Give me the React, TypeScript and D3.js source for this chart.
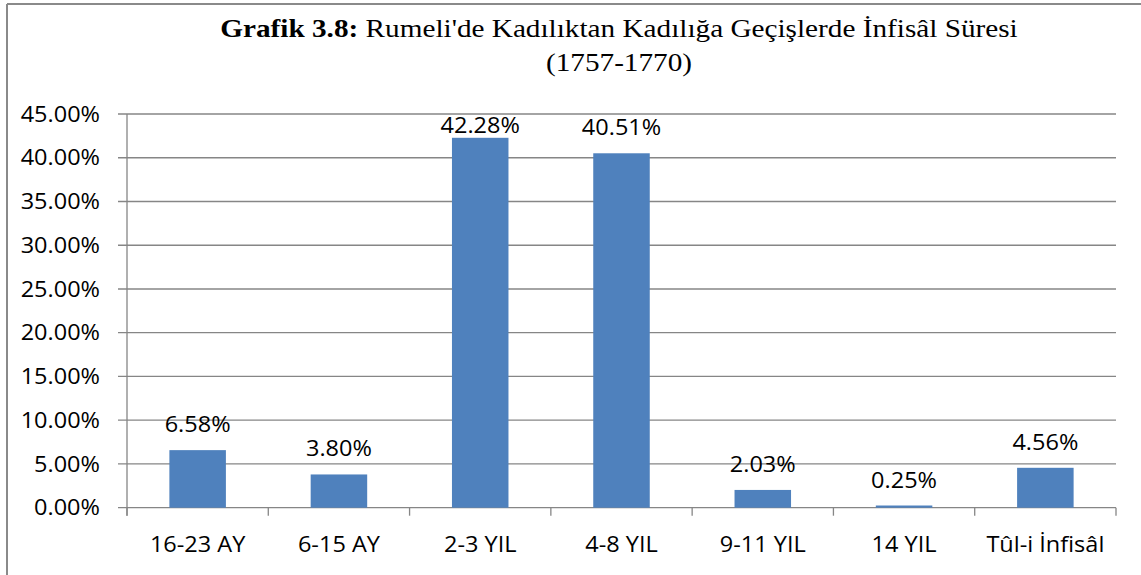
import React from "react";
import * as d3 from "d3";

const categories = ["16-23 AY", "6-15 AY", "2-3 YIL", "4-8 YIL", "9-11 YIL", "14 YIL", "Tûl-i İnfisâl"];
const values = [6.58, 3.8, 42.28, 40.51, 2.03, 0.25, 4.56];
const yTicks = [0, 5, 10, 15, 20, 25, 30, 35, 40, 45];

const W = 1141;
const H = 575;
const plotLeft = 127;
const plotRight = 1116;
const plotTop = 114;
const plotBottom = 507.7;

const SANS = "'Open Sans', sans-serif";
const SERIF = "'Liberation Serif', 'Times New Roman', serif";

function Txt({ x, y, sx, anchor, size, family, dy, children }: any) {
  return (
    <g transform={`translate(${x},${y}) scale(${sx},1)`}>
      <text x={0} y={0} dy={dy} textAnchor={anchor} fontFamily={family} fontSize={size} fill="#000">
        {children}
      </text>
    </g>
  );
}

export default function App() {
  const x = d3.scaleBand<string>().domain(categories).range([plotLeft, plotRight]).paddingInner(0.6).paddingOuter(0.3);
  const xOuter = d3.scaleBand<string>().domain(categories).range([plotLeft, plotRight]);
  const y = d3.scaleLinear().domain([0, 45]).range([plotBottom, plotTop]);
  const grid = "#868686";
  const boundaries = categories.map((c) => xOuter(c) as number).concat([plotRight]);
  const sx = 1.12;

  return (
    <svg width={W} height={H} style={{ position: "absolute", left: 0, top: 0, background: "#fff" }}>
      <rect x={0} y={0} width={W} height={H} fill="#fff" />
      <line x1={7} y1={4} x2={W} y2={4} stroke="#8a8a8a" strokeWidth={2} />
      <line x1={7} y1={4} x2={7} y2={H} stroke="#8a8a8a" strokeWidth={2} />

      <Txt x={619} y={37} sx={1.17} anchor="middle" family={SERIF} size={25}>
        <tspan fontWeight="bold">Grafik 3.8:</tspan>
        <tspan> Rumeli'de Kadılıktan Kadılığa Geçişlerde İnfisâl Süresi</tspan>
      </Txt>
      <Txt x={619} y={71} sx={1.17} anchor="middle" family={SERIF} size={25}>
        (1757-1770)
      </Txt>

      {yTicks.map((t) => (
        <g key={t}>
          <line x1={plotLeft - 9} x2={plotRight} y1={y(t)} y2={y(t)} stroke={grid} strokeWidth={1.3} />
          <Txt x={100} y={y(t)} dy="0.36em" sx={sx} anchor="end" family={SANS} size={21}>
            {t.toFixed(2) + "%"}
          </Txt>
        </g>
      ))}
      <line x1={plotLeft} x2={plotLeft} y1={plotTop} y2={plotBottom + 8} stroke={grid} strokeWidth={1.3} />
      {boundaries.map((b, i) => (
        <line key={i} x1={b} x2={b} y1={plotBottom} y2={plotBottom + 8} stroke={grid} strokeWidth={1.3} />
      ))}

      {categories.map((c, i) => {
        const v = values[i];
        const bx = x(c) as number;
        const bw = x.bandwidth();
        const cx = bx + bw / 2;
        const labelY = Math.max(y(v) - 18, plotTop + 19);
        return (
          <g key={c}>
            <rect x={bx} y={y(v)} width={bw} height={plotBottom - y(v)} fill="#4F81BD" />
            <Txt x={cx} y={labelY} sx={sx} anchor="middle" family={SANS} size={21}>
              {v.toFixed(2) + "%"}
            </Txt>
            <Txt x={cx} y={552} sx={sx} anchor="middle" family={SANS} size={21}>
              {c}
            </Txt>
          </g>
        );
      })}
    </svg>
  );
}
